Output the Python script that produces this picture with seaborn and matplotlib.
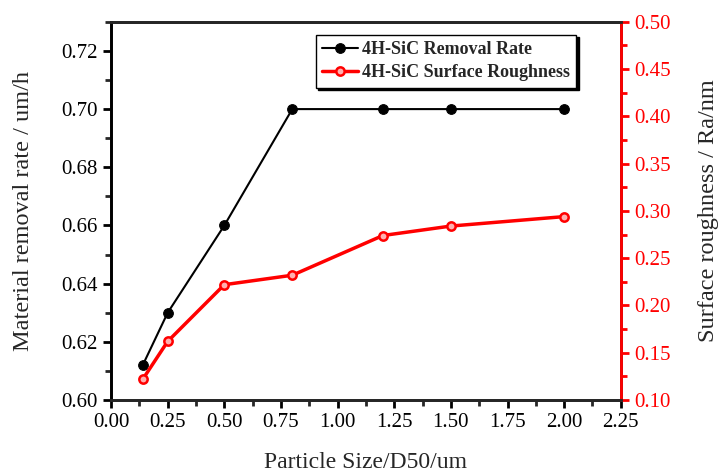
import matplotlib
matplotlib.use("Agg")
import matplotlib.pyplot as plt
import seaborn as sns
import pandas as pd
from matplotlib.ticker import MultipleLocator, FormatStrFormatter

sns.set_theme(style="ticks")
plt.rcParams['font.family'] = ['Liberation Serif', 'DejaVu Serif']

particle_size = [0.14, 0.25, 0.5, 0.8, 1.2, 1.5, 2.0]
removal_rate = [0.612, 0.630, 0.660, 0.700, 0.700, 0.700, 0.700]
roughness = [0.122, 0.162, 0.222, 0.232, 0.274, 0.284, 0.294]

df = pd.DataFrame({"size": particle_size, "rate": removal_rate, "rough": roughness})

fig = plt.figure(figsize=(7.21, 4.74), dpi=100)
ax = fig.add_axes([0.154, 0.156, 0.707, 0.798])
ax2 = ax.twinx()

sns.lineplot(data=df, x="size", y="rate", ax=ax, color="black", lw=1.5,
             marker="o", markersize=7, markeredgecolor="black",
             label="4H-SiC Removal Rate", legend=False)
sns.lineplot(data=df, x="size", y="rough", ax=ax2, color="red", lw=2.5,
             marker="o", markersize=6, markerfacecolor="#ffb0b0",
             markeredgecolor="red", markeredgewidth=1.8,
             label="4H-SiC Surface Roughness", legend=False)

ax.set_xlim(0, 2.25)
ax.set_ylim(0.60, 0.73)
ax2.set_ylim(0.10, 0.50)

ax.xaxis.set_major_locator(MultipleLocator(0.25))
ax.xaxis.set_minor_locator(MultipleLocator(0.125))
ax.xaxis.set_major_formatter(FormatStrFormatter('%.2f'))
ax.yaxis.set_major_locator(MultipleLocator(0.02))
ax.yaxis.set_minor_locator(MultipleLocator(0.01))
ax.yaxis.set_major_formatter(FormatStrFormatter('%.2f'))
ax2.yaxis.set_major_locator(MultipleLocator(0.05))
ax2.yaxis.set_minor_locator(MultipleLocator(0.025))
ax2.yaxis.set_major_formatter(FormatStrFormatter('%.2f'))

for a in (ax, ax2):
    for s in a.spines.values():
        s.set_linewidth(2)
ax2.spines['right'].set_color('red')
ax2.spines['left'].set_color('black')

ax.tick_params(axis='both', which='major', direction='out', length=6, width=2,
               labelsize=15, colors='black')
ax.tick_params(axis='both', which='minor', direction='out', length=4, width=2)
ax2.tick_params(axis='y', which='major', direction='out', length=6, width=2,
                labelsize=15, colors='red')
ax2.tick_params(axis='y', which='minor', direction='out', length=4, width=2, colors='red')

ax.set_xlabel("Particle Size/D50/um", fontsize=17, labelpad=14)
ax.set_ylabel("Material removal rate / um/h", fontsize=17.5, labelpad=20)
ax2.set_ylabel("Surface roughness / Ra/nm", fontsize=17.5, labelpad=20, rotation=90)

h1, l1 = ax.get_legend_handles_labels()
h2, l2 = ax2.get_legend_handles_labels()
leg = ax2.legend(h1 + h2, l1 + l2, loc='upper right', bbox_to_anchor=(0.93, 0.99),
                 frameon=True, fancybox=False, shadow={'color': 'black', 'alpha': 1},
                 prop={'weight': 'bold', 'size': 13}, handlelength=2.0,
                 borderpad=0.35, labelspacing=0.35, handletextpad=0.2,
                 edgecolor='black', framealpha=1)
leg.get_frame().set_linewidth(1)

fig.savefig("out.png", dpi=100)
